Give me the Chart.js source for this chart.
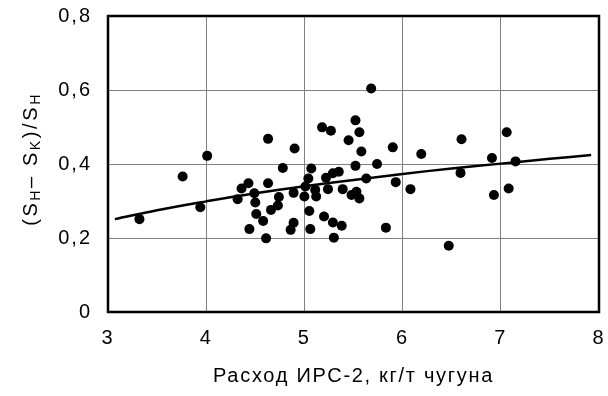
<!DOCTYPE html>
<html>
<head>
<meta charset="utf-8">
<script src="https://cdn.jsdelivr.net/npm/chart.js@4.4.1/dist/chart.umd.min.js"></script>
<style>
  body { margin: 0; background: #fff; }
  canvas { display: block; }
</style>
</head>
<body>
<canvas id="chart" width="608" height="396"></canvas>
<script>
// measured points: IRS-2 consumption vs relative sulphur drop
const pointsX = [3.32, 3.76, 3.94, 4.01, 4.32, 4.36, 4.43, 4.44, 4.49, 4.50,
  4.51, 4.58, 4.61, 4.63, 4.63, 4.66, 4.73, 4.74, 4.78, 4.86,
  4.89, 4.89, 4.90, 5.00, 5.01, 5.04, 5.07, 5.11, 5.12, 5.05,
  5.06, 5.18, 5.27, 5.22, 5.24, 5.29, 5.35, 5.20, 5.29, 5.38,
  5.30, 5.39, 5.45, 5.52, 5.56, 5.58, 5.52, 5.48, 5.53, 5.56,
  5.63, 5.68, 5.74, 5.83, 5.90, 5.93, 6.08, 6.19, 6.47, 6.59,
  6.60, 6.91, 6.93, 7.06, 7.08, 7.15];
const pointsY = [0.251, 0.366, 0.283, 0.422, 0.305, 0.334, 0.348, 0.224, 0.321, 0.296,
  0.265, 0.246, 0.199, 0.348, 0.468, 0.276, 0.288, 0.311, 0.389, 0.222,
  0.241, 0.322, 0.442, 0.312, 0.339, 0.361, 0.388, 0.330, 0.312, 0.273,
  0.224, 0.499, 0.490, 0.363, 0.332, 0.375, 0.379, 0.258, 0.242, 0.233,
  0.201, 0.332, 0.464, 0.518, 0.486, 0.434, 0.395, 0.316, 0.325, 0.307,
  0.361, 0.604, 0.400, 0.228, 0.445, 0.351, 0.332, 0.427, 0.179, 0.376,
  0.467, 0.416, 0.316, 0.486, 0.334, 0.407];

// trend curve
const trendX = [3.07, 3.5, 4, 4.5, 5, 5.5, 6, 6.5, 7, 7.5, 7.92];
const trendY = [0.251, 0.275, 0.299, 0.321, 0.340, 0.357, 0.373, 0.388, 0.401, 0.414, 0.424];

const yTickLabels = ['0', '0,2', '0,4', '0,6', '0,8'];
const xTitle = 'Расход ИРС-2, кг/т чугуна';
// y title pieces: [text, isSubscript]
const yTitleParts = [['(S', false], ['H', true], ['– S', false], ['K', true], [')/S', false], ['H', true]];

const FONT = '"Liberation Sans", Arial, sans-serif';

const framePlugin = {
  id: 'frame',
  beforeDraw(chart) {
    chart.ctx.letterSpacing = '2px';
  },
  afterDraw(chart) {
    const { ctx, chartArea: a } = chart;
    ctx.save();
    ctx.strokeStyle = '#000';
    ctx.lineWidth = 2.5;
    ctx.strokeRect(a.left, a.top, a.right - a.left, a.bottom - a.top);

    ctx.fillStyle = '#000';
    ctx.font = '20px ' + FONT;
    ctx.letterSpacing = '1.7px';
    ctx.textAlign = 'center';
    ctx.textBaseline = 'alphabetic';
    ctx.fillText(xTitle, (a.left + a.right) / 2, 382);

    // rotated y title with subscripts
    ctx.letterSpacing = '2.6px';
    const big = '20px ' + FONT, small = '14px ' + FONT;
    let total = 0;
    yTitleParts.forEach(([t, sub]) => {
      ctx.font = sub ? small : big;
      total += ctx.measureText(t).width;
    });
    ctx.translate(37, 159);
    ctx.rotate(-Math.PI / 2);
    ctx.textAlign = 'left';
    let x = -total / 2;
    yTitleParts.forEach(([t, sub]) => {
      ctx.font = sub ? small : big;
      ctx.fillText(t, x, sub ? 3 : 0);
      x += ctx.measureText(t).width;
    });
    ctx.restore();
  }
};

new Chart(document.getElementById('chart'), {
  type: 'scatter',
  data: {
    datasets: [
      {
        label: 'points',
        data: pointsX.map((x, i) => ({ x: x, y: pointsY[i] })),
        backgroundColor: '#000',
        borderColor: '#000',
        borderWidth: 0,
        pointRadius: 5,
      },
      {
        label: 'trend',
        data: trendX.map((x, i) => ({ x: x, y: trendY[i] })),
        showLine: true,
        borderColor: '#000',
        borderWidth: 2.5,
        pointRadius: 0,
        tension: 0.4,
      },
    ],
  },
  options: {
    responsive: false,
    animation: false,
    layout: { padding: { left: 0, top: 16, right: 9, bottom: 0 } },
    plugins: { legend: { display: false }, tooltip: { enabled: false } },
    scales: {
      x: {
        type: 'linear',
        min: 3,
        max: 8,
        afterFit: (s) => {
          s.height = 84;
          s.paddingLeft = 0;
          s.paddingRight = 0;
        },
        ticks: {
          stepSize: 1,
          padding: 14,
          color: '#000',
          font: { family: FONT, size: 20 },
        },
        grid: { color: '#808080', lineWidth: 1, drawTicks: false },
        border: { display: false },
      },
      y: {
        min: 0,
        max: 0.8,
        afterFit: (s) => {
          s.width = 108;
          s.paddingTop = 0;
          s.paddingBottom = 0;
        },
        ticks: {
          stepSize: 0.2,
          padding: 16,
          color: '#000',
          font: { family: FONT, size: 20 },
          callback: (v, i) => yTickLabels[i],
        },
        grid: { color: '#808080', lineWidth: 1, drawTicks: false },
        border: { display: false },
      },
    },
  },
  plugins: [framePlugin],
});
</script>
</body>
</html>
